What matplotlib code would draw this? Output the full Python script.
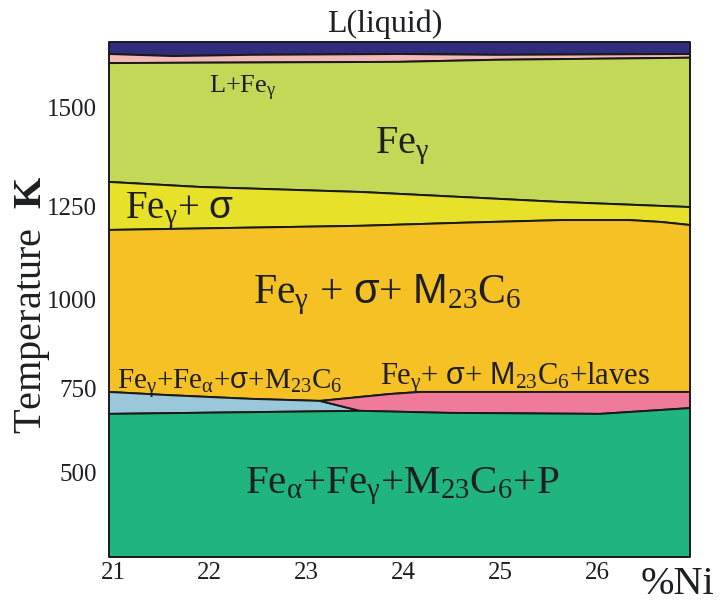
import numpy as np
import matplotlib
matplotlib.use('Agg')
import matplotlib.pyplot as plt
from matplotlib.transforms import ScaledTranslation

# ---------------- data ----------------
ni_lim = [21, 27]
T_floor, T_ceiling = 235, 1661

liq_ni = [21, 21.66, 22.46, 24.0, 25.0, 27]          # L / L+Fe_gamma
liq_T = [1632, 1627, 1630, 1632, 1630, 1632]
lfe_ni = [21, 24.0, 25.0, 27]                         # L+Fe_gamma / Fe_gamma
lfe_T = [1610, 1613, 1618, 1623]
gs_ni = [21, 21.94, 23.61, 24.65, 25.68, 27]          # Fe_gamma / Fe_gamma+sigma
gs_T = [1313, 1300, 1287, 1274, 1261, 1248]
sm_ni = [21, 23.61, 24.65, 25.68, 26.37, 26.7, 27]    # Fe_gamma+sigma / +M23C6
sm_T = [1188, 1199, 1207, 1214, 1214, 1209, 1201]
ab_ni = [21, 21.6, 22.46, 23.18]                      # top of Fe_a+Fe_g+s+M23C6
ab_T = [741, 732, 721, 715]
lav_top_ni = [23.18, 23.90, 24.21, 27]                # top of laves field
lav_top_T = [715, 735, 741, 741]
blue_bot_ni = [21, 23.59]                             # bottom of Fe_a+Fe_g+s+M23C6
blue_bot_T = [677, 686]
lav_bot_ni = [23.59, 24.5, 26.07, 27]                 # bottom of laves field
lav_bot_T = [686, 680, 677, 694]

x_ticks = [21, 22, 23, 24, 25, 26]
y_ticks = [500, 750, 1000, 1250, 1500]

# ---------------- style ----------------
plt.rcParams['font.family'] = ['Liberation Serif', 'DejaVu Serif']
plt.rcParams['mathtext.fontset'] = 'custom'
plt.rcParams['mathtext.rm'] = 'Liberation Serif'
plt.rcParams['mathtext.it'] = 'Liberation Serif'
plt.rcParams['mathtext.bf'] = 'Liberation Serif:bold'
plt.rcParams['mathtext.sf'] = 'Liberation Sans'

tc = '#1e1f22'
edge = '#1a1a1a'
W, H = 724, 603

fig = plt.figure(figsize=(W / 100, H / 100), dpi=100)
ax = fig.add_axes([109 / W, 46 / H, 581 / W, 515 / H])


def fwd(T):
    d = np.asarray(T, dtype=float) - 1000.0
    return 0.365 * d + 3.8e-5 * d ** 2


def inv(u):
    u = np.asarray(u, dtype=float)
    disc = np.clip(0.365 ** 2 + 4 * 3.8e-5 * u, 0, None)
    return 1000.0 + (-0.365 + np.sqrt(disc)) / (2 * 3.8e-5)


ax.set_yscale('function', functions=(fwd, inv))
ax.set_xlim(*ni_lim)
ax.set_ylim(T_floor, T_ceiling)


def band(ux, uT, lx, lT, color):
    xs = list(ux) + list(lx)[::-1]
    ts = list(uT) + list(lT)[::-1]
    ax.fill(xs, ts, facecolor=color, edgecolor=edge, linewidth=1.4,
            joinstyle='round', clip_on=False)


band(ni_lim, [T_ceiling] * 2, liq_ni, liq_T, '#302D7C')
band(liq_ni, liq_T, lfe_ni, lfe_T, '#F5B8B9')
band(lfe_ni, lfe_T, gs_ni, gs_T, '#C2D856')
band(gs_ni, gs_T, sm_ni, sm_T, '#E7E12A')
band(sm_ni, sm_T, ab_ni + lav_top_ni[1:], ab_T + lav_top_T[1:], '#F6C125')
band(ab_ni, ab_T, blue_bot_ni, blue_bot_T, '#9AC7DA')
band(lav_top_ni, lav_top_T, [lav_top_ni[0]] + lav_bot_ni,
     [lav_top_T[0]] + lav_bot_T, '#EF7A9A')
band(blue_bot_ni + lav_bot_ni[1:], blue_bot_T + lav_bot_T[1:],
     ni_lim, [T_floor] * 2, '#20B57F')

for s in ax.spines.values():
    s.set_visible(False)
ax.set_xticks(x_ticks)
ax.set_xticklabels([str(v) for v in x_ticks])
ax.set_yticks(y_ticks)
ax.set_yticklabels([str(v) for v in y_ticks])
ax.yaxis.set_minor_locator(matplotlib.ticker.NullLocator())
ax.tick_params(axis='both', length=0, labelsize=18, labelcolor=tc)
ax.tick_params(axis='y', pad=8.6)
ax.tick_params(axis='x', pad=3.6)
for lab in ax.get_xticklabels():
    lab.set_transform(lab.get_transform() + ScaledTranslation(4 / 100, 0, fig.dpi_scale_trans))


def ftext(px, py, s, size, **kw):
    opts = dict(fontsize=size, color=tc, va='baseline', ha='left')
    opts.update(kw)
    fig.text(px / W, 1 - py / H, s, **opts)


ftext(384.5, 32, 'L(liquid)', 23, ha='center')
ftext(209, 93, r'L+Fe$_{\gamma}$', 19)
ftext(375, 153, r'Fe$_{\gamma}$', 29)
ftext(125, 218, r'Fe$_{\gamma}$+ $\mathsf{\sigma}$', 28)
ftext(253, 303, r'Fe$_{\gamma}$ + $\mathsf{\sigma}$+ $\mathsf{M}_{23}$C$_{6}$', 30)
ftext(117, 389, r'Fe$_{\gamma}$+Fe$_{\alpha}$+$\mathsf{\sigma}$+M$_{23}$C$_{6}$', 21)
ftext(380, 385, r'Fe$_{\gamma}$+ $\mathsf{\sigma}$+ $\mathsf{M}_{23}$C$_{6}$+laves', 22)
ftext(245, 493, r'Fe$_{\alpha}$+Fe$_{\gamma}$+M$_{23}$C$_{6}$+P', 29.5)
ftext(641, 594, '%Ni', 29)
fig.text(41 / W, 1 - 305 / H, r'Temperature  $\mathbf{K}$', rotation=90,
         rotation_mode='anchor', ha='center', va='baseline', fontsize=29, color=tc)

fig.savefig('out.png', dpi=100, facecolor='white')
